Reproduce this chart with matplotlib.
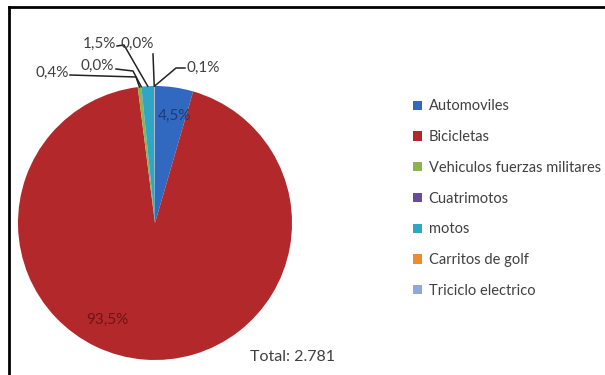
import matplotlib.pyplot as plt
import numpy as np
from matplotlib.patches import Patch

plt.rcParams['font.family'] = ['Lato', 'DejaVu Sans']

categorias = ['Automoviles', 'Bicicletas', 'Vehiculos fuerzas militares',
              'Cuatrimotos', 'motos', 'Carritos de golf', 'Triciclo electrico']
cantidades = [125, 2600, 11, 1, 41, 1, 2]
etiquetas = ['4,5%', '93,5%', '0,4%', '0,0%', '1,5%', '0,0%', '0,1%']
colores = ['#3169C0', '#B3282B', '#8DB44A', '#6A4A9B', '#2FA6C4', '#F08A30', '#8FA8D8']
total_txt = 'Total: 2.781'

W, H = 605, 375
fig = plt.figure(figsize=(W / 100, H / 100), dpi=100)
ax = fig.add_axes([0, 0, 1, 1])

cx, cy, r = 155, H - 223, 137
wedges, _ = ax.pie(cantidades, colors=colores, startangle=90, counterclock=False,
                   center=(cx, cy), radius=r, frame=True,
                   wedgeprops=dict(linewidth=0))
ax.set_xlim(0, W)
ax.set_ylim(0, H)
ax.set_aspect('equal')
ax.axis('off')

# borde (solo arriba e izquierda)
ax.plot([9, W], [H - 7, H - 7], color='black', lw=2, clip_on=False)
ax.plot([9, 9], [H - 7, 0], color='black', lw=2, clip_on=False)

gris = '#404040'
fs = 11
ax.text(174, H - 116, etiquetas[0], color='#1F3A70', fontsize=fs, ha='center', va='center')
ax.text(107, H - 320, etiquetas[1], color='#6E1416', fontsize=fs, ha='center', va='center')
ax.text(250, H - 357, total_txt, color=gris, fontsize=11.5, ha='left', va='center')

# etiquetas externas: (indice, pos texto, inicio linea, codo)
externas = [
    (2, (52, 73), (70, 75), (136, 77)),
    (3, (97, 66), (116, 69), (133, 71)),
    (4, (99, 44), (117, 46), (124, 45)),
    (5, (137, 44), (153, 54), (153, 54)),
    (6, (203, 68), (185, 68), (176, 68)),
]
for i, tpos, p0, p1 in externas:
    w = wedges[i]
    ang = np.deg2rad((w.theta1 + w.theta2) / 2)
    ex, ey = cx + r * np.cos(ang), cy + r * np.sin(ang)
    ax.plot([p0[0], p1[0], ex], [H - p0[1], H - p1[1], ey], color='#222222', lw=1.1)
    ax.text(tpos[0], H - tpos[1], etiquetas[i], color=gris, fontsize=fs,
            ha='center', va='center')

handles = [Patch(facecolor=c, edgecolor='none') for c in colores]
leg = ax.legend(handles, categorias, loc='upper left',
                bbox_to_anchor=(406 / W, 1 - 92 / H), frameon=False,
                fontsize=10.5, labelspacing=1.15, handlelength=0.6,
                handleheight=0.6, handletextpad=0.45, borderpad=0)
for t in leg.get_texts():
    t.set_color(gris)

fig.savefig('out.png', dpi=100)
